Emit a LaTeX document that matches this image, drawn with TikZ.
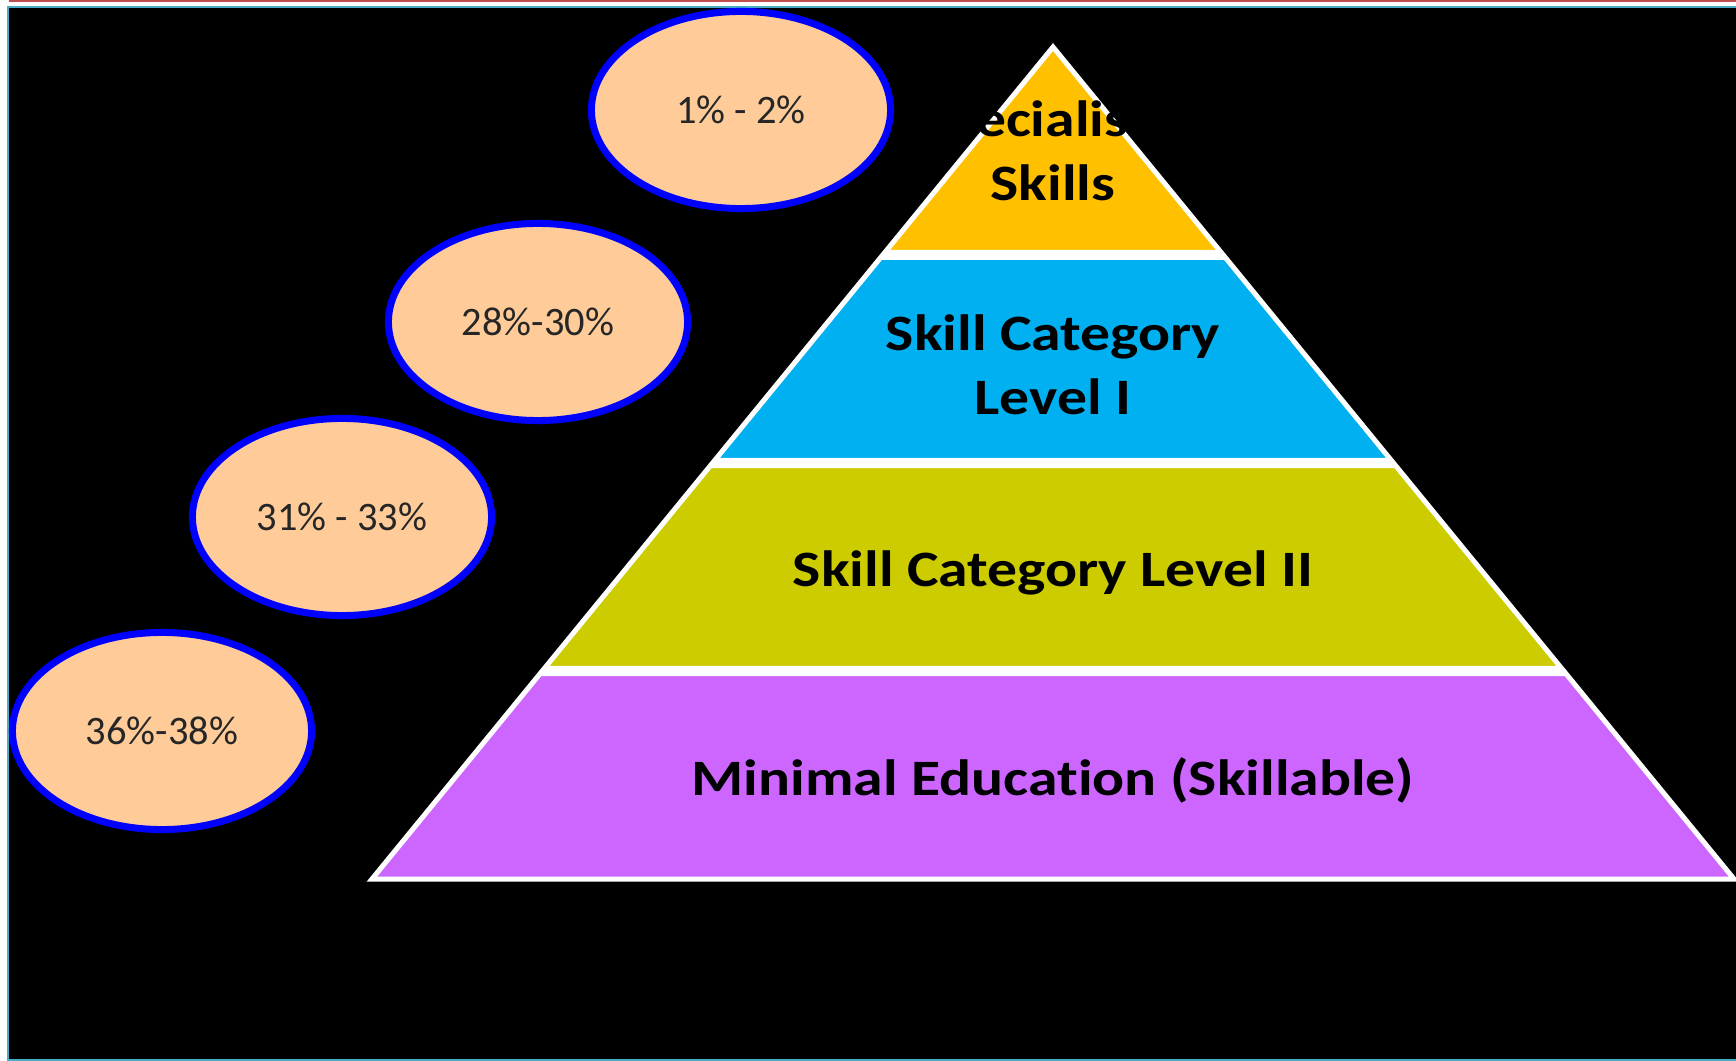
\documentclass[tikz,border=0pt]{standalone}
\usepackage{fontspec}
\setmainfont{Carlito}[Ligatures=NoCommon]
\newfontfamily\widefont{Carlito}[FakeStretch=1.17, Ligatures=NoCommon]
\usetikzlibrary{shapes.geometric,positioning}
\definecolor{specyellow}{RGB}{255,192,0}
\definecolor{catblue}{RGB}{0,176,240}
\definecolor{catgreen}{RGB}{204,204,0}
\definecolor{minpurple}{RGB}{204,102,255}
\definecolor{peach}{RGB}{255,204,153}
\definecolor{ringblue}{RGB}{0,0,255}
\definecolor{framecyan}{RGB}{75,172,198}
\definecolor{framered}{RGB}{192,80,77}
\begin{document}
\begin{tikzpicture}[
            x=0.01cm, y=-0.01cm,
            band/.style={draw=white, line width=0.05cm, line join=miter},
            share/.style={ellipse, draw=ringblue, fill=peach, line width=0.07cm, minimum width=2.99cm, minimum height=1.97cm, inner sep=0pt, font=\fontsize{11.5}{13}\selectfont, text=black!85},
            level/.style={font=\widefont\bfseries\fontsize{14.5}{18.2}\selectfont, align=center, text=black}
        ]
        
        % page and frame
        \useasboundingbox (0,0) rectangle (1736,1061);
        \fill[white] (0,0) rectangle (1736,1061);
        \fill[framered] (9,0) rectangle (1736,2);
        \fill[framecyan] (7,6) rectangle (1736,1061);
        \fill[black] (9,8) rectangle (1736,1059);
        
        % pyramid
        \draw[band, fill=specyellow] (1053,47) -- (1221.2,252.5) -- (884.8,252.5) -- cycle;
        \draw[band, fill=catblue] (880.7,257.5) -- (1225.3,257.5) -- (1391.4,460.5) -- (714.6,460.5) -- cycle;
        \draw[band, fill=catgreen] (710.5,465.5) -- (1395.5,465.5) -- (1561.7,668.5) -- (544.3,668.5) -- cycle;
        \draw[band, fill=minpurple] (540.2,673.5) -- (1565.8,673.5) -- (1734,879) -- (372,879) -- cycle;
        
        \node[level] (spec) at (1053,151) {Specialised\\Skills};
        \node[level] (cat1) at (1053,365) {Skill Category\\Level I};
        \node[level, anchor=base] (cat2) at (1053,587) {Skill Category Level II};
        \node[level, anchor=base] (minimal) at (1053,795) {Minimal Education (Skillable)};
        
        % shares
        \node[share] (p1) at (741,110) {1\% - 2\%};
        \node[share] (p28) at (538,322) {28\%-30\%};
        \node[share] (p31) at (342,517) {31\% - 33\%};
        \node[share] (p36) at (162,731) {36\%-38\%};
        
        \end{tikzpicture}
\end{document}
